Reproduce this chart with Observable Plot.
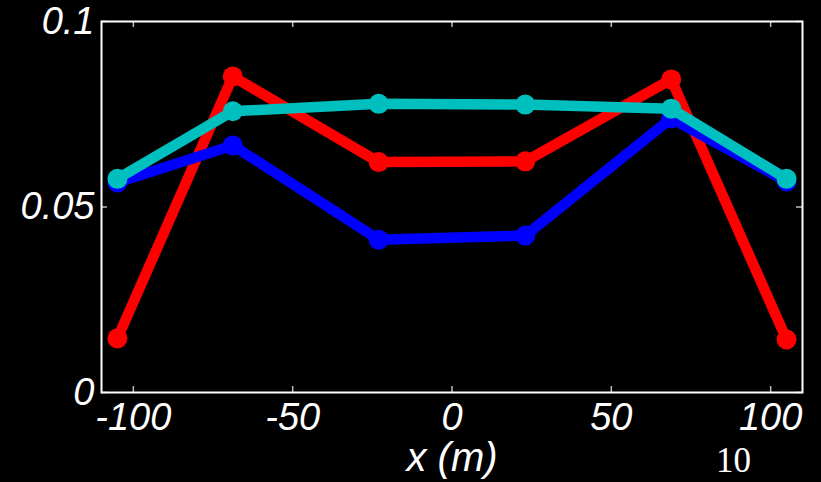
<!DOCTYPE html>
<html>
<head>
<meta charset="utf-8">
<script src="https://cdn.jsdelivr.net/npm/d3@7"></script>
<script src="https://cdn.jsdelivr.net/npm/@observablehq/plot@0.6"></script>
<style>
  html, body { margin: 0; padding: 0; background: #000; }
  #chart svg { display: block; }
</style>
</head>
<body>
<div id="chart"></div>
<script>
const xPositions = [-105, -68.8, -23, 23, 68.8, 105];
const redValues  = [0.0146, 0.0852, 0.0621, 0.0623, 0.0844, 0.0143];
const blueValues = [0.0566, 0.0666, 0.0412, 0.0423, 0.0739, 0.0569];
const cyanValues = [0.0576, 0.0758, 0.0778, 0.0776, 0.0765, 0.0576];
const seriesNames = ["red", "blue", "cyan"];
const seriesColors = ["#ff0000", "#0000ff", "#00bfbf"];
const xTicks = [-100, -50, 0, 50, 100];
const yTicks = [0, 0.05, 0.1];
const yTickLabels = ["0", "0.05", "0.1"];
const xLabel = "x (m)";
const pageNumber = "10";

const allValues = [redValues, blueValues, cyanValues];
const data = [];
seriesNames.forEach((s, i) => {
  xPositions.forEach((x, j) => data.push({series: s, x, y: allValues[i][j]}));
});

const marks = [];
seriesNames.forEach((s, i) => {
  const rows = data.filter(d => d.series === s);
  marks.push(Plot.line(rows, {x: "x", y: "y", stroke: seriesColors[i], strokeWidth: 10.5, strokeLinejoin: "round"}));
  marks.push(Plot.dot(rows, {x: "x", y: "y", r: 10, fill: seriesColors[i], stroke: "none"}));
});

const chart = Plot.plot({
  width: 821,
  height: 482,
  marginLeft: 101,
  marginRight: 19,
  marginTop: 21,
  marginBottom: 90,
  style: {background: "#000", color: "#fff", fontFamily: "'Liberation Sans', Arial, sans-serif"},
  x: {domain: [-110, 110]},
  y: {domain: [0, 0.1]},
  marks: [
    Plot.tickX(xTicks, {x: d => d, insetTop: 365, stroke: "#bbb", strokeWidth: 1.5}),
    Plot.tickX(xTicks, {x: d => d, insetBottom: 365, stroke: "#bbb", strokeWidth: 1.5}),
    Plot.tickY(yTicks, {y: d => d, insetRight: 695, stroke: "#bbb", strokeWidth: 1.5}),
    Plot.tickY(yTicks, {y: d => d, insetLeft: 695, stroke: "#bbb", strokeWidth: 1.5}),
    Plot.axisX({ticks: xTicks, tickSize: 0, tickPadding: 11, fontSize: 38, fontStyle: "italic", label: null, tickFormat: d => String(d)}),
    Plot.axisY({ticks: yTicks, tickSize: 0, tickPadding: 7, fontSize: 38, fontStyle: "italic", label: null, tickFormat: (d, i) => yTickLabels[i]}),
    ...marks,
    Plot.frame({stroke: "#fff", strokeWidth: 2}),
    Plot.text([xLabel], {text: d => d, frameAnchor: "bottom", lineAnchor: "bottom", dy: 78, fontSize: 40, fontStyle: "italic", fill: "#fff"}),
    Plot.text([pageNumber], {text: d => d, frameAnchor: "bottom-right", textAnchor: "middle", lineAnchor: "bottom", dx: -69, dy: 79, fontSize: 35, fontFamily: "'Liberation Serif', 'Times New Roman', serif", fill: "#fff"})
  ]
});
document.getElementById("chart").appendChild(chart);
</script>
</body>
</html>
